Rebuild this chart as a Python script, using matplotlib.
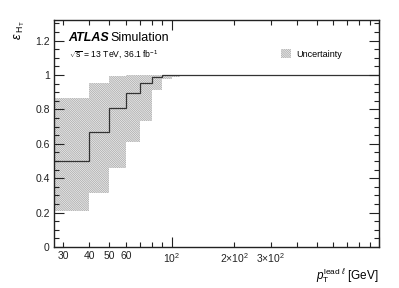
import matplotlib
matplotlib.use("Agg")
import matplotlib.pyplot as plt
import numpy as np
from matplotlib.ticker import FixedLocator, FuncFormatter
from matplotlib.patches import Patch

plt.rcParams['font.family'] = ['Liberation Sans', 'DejaVu Sans']
plt.rcParams['mathtext.fontset'] = 'custom'
plt.rcParams['mathtext.rm'] = 'Liberation Sans'
plt.rcParams['mathtext.it'] = 'Liberation Sans:italic'
plt.rcParams['mathtext.bf'] = 'Liberation Sans:bold'
plt.rcParams['hatch.linewidth'] = 0.5

# Data
bin_edges = [27, 40, 50, 60, 70, 80, 90, 100, 110, 1000]
efficiency = [0.50, 0.667, 0.806, 0.897, 0.952, 0.987, 0.998, 1.0, 1.0]
unc_low = [0.209, 0.316, 0.457, 0.608, 0.733, 0.913, 0.975, 0.99, 1.0]
unc_high = [0.868, 0.952, 0.996, 1.0, 1.0, 1.0, 1.0, 1.0, 1.0]

HATCH = '\\' * 18
HCOL = '#a0a0a0'

fig = plt.figure(figsize=(3.99, 2.88), dpi=100)
ax = fig.add_axes([0.1353, 0.1424, 0.8147, 0.7882])

ax.stairs(unc_high, bin_edges, baseline=unc_low, fill=True, facecolor='none',
          edgecolor=HCOL, hatch=HATCH, linewidth=0)
ax.stairs(efficiency, bin_edges, baseline=None, color='#333333', linewidth=0.9)

ax.set_xscale('log')
ax.set_xlim(27, 1000)
ax.set_ylim(0, 1.32)

ax.yaxis.set_major_locator(FixedLocator([0, 0.2, 0.4, 0.6, 0.8, 1.0, 1.2]))
ax.yaxis.set_minor_locator(FixedLocator(np.arange(0, 1.321, 0.05)))
ax.yaxis.set_major_formatter(FuncFormatter(lambda v, p: ('%g' % round(v, 2))))

ax.xaxis.set_major_locator(FixedLocator([100, 1000]))
ax.xaxis.set_minor_locator(FixedLocator([30, 40, 50, 60, 70, 80, 90, 200, 300, 400, 500, 600, 700, 800, 900]))
minor_labels = {30: '30', 40: '40', 50: '50', 60: '60', 200: r'2$\times$10$^{2}$', 300: r'3$\times$10$^{2}$'}
ax.xaxis.set_minor_formatter(FuncFormatter(lambda v, p: minor_labels.get(int(round(v)), '')))
ax.xaxis.set_major_formatter(FuncFormatter(lambda v, p: r'10$^{2}$' if abs(v - 100) < 1 else ''))

ax.tick_params(which='both', direction='in', top=True, right=True, labelsize=7.5, colors='#222222', pad=3)
ax.tick_params(which='major', length=7, width=0.8)
ax.tick_params(which='minor', length=3.5, width=0.8)
ax.tick_params(axis='x', which='both', pad=3)
for s in ax.spines.values():
    s.set_linewidth(1.0)
    s.set_color('#222222')

ax.set_ylabel(r'$\epsilon_{\ \mathrm{H_{T}}}$', fontsize=9, loc='top', labelpad=6)
ax.set_xlabel(r'$p_{\mathrm{T}}^{\mathrm{lead}\ \ell}$ [GeV]', fontsize=8.5, loc='right', labelpad=1)

ax.text(0.045, 0.906, 'ATLAS', transform=ax.transAxes, fontsize=9, fontweight='bold', fontstyle='italic')
ax.text(0.175, 0.906, 'Simulation', transform=ax.transAxes, fontsize=9)
ax.text(0.045, 0.835, r'$\sqrt{\mathrm{s}}$ = 13 TeV, 36.1 fb$^{-1}$', transform=ax.transAxes, fontsize=6.2)

leg_handle = Patch(facecolor='none', edgecolor=HCOL, hatch=HATCH, linewidth=0)
ax.legend([leg_handle], ['Uncertainty'], loc='upper right', bbox_to_anchor=(0.91, 0.906),
          frameon=False, fontsize=6.5, handlelength=1.2, handleheight=1.0, handletextpad=0.5)

fig.savefig('out.png', dpi=100)
